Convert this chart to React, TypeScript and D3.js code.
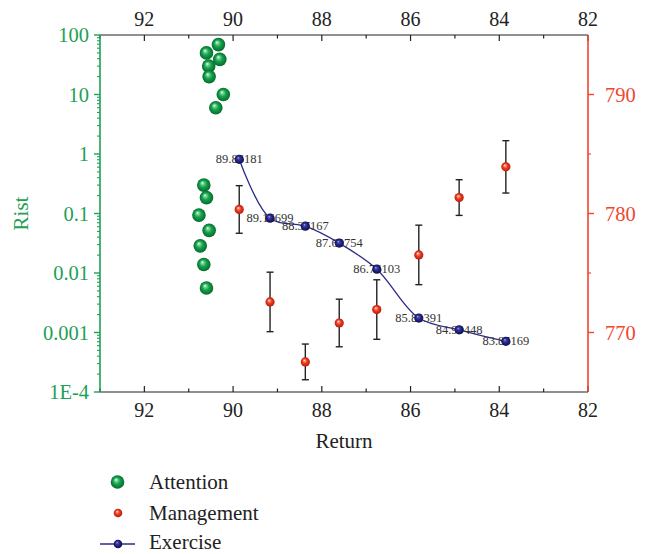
import React from 'react';
import * as d3 from 'd3';

const xTicks = [92, 90, 88, 86, 84, 82];
const xMinorTicks = [93, 91, 89, 87, 85, 83];
const leftTicks = [1e-4, 1e-3, 1e-2, 1e-1, 1, 10, 100];
const leftTickLabels = ['1E-4', '0.001', '0.01', '0.1', '1', '10', '100'];
const rightTicks = [770, 780, 790];
const rightMinorTicks = [775, 785];

const attentionX = [90.33, 90.6, 90.3, 90.55, 90.54, 90.22, 90.39, 90.66, 90.6, 90.77, 90.54, 90.74, 90.66, 90.6];
const attentionY = [69, 50, 39, 30, 20, 10, 6, 0.3, 0.185, 0.094, 0.052, 0.0286, 0.0139, 0.0056];

const exerciseX = [89.86181, 89.16699, 88.37167, 87.60754, 86.76103, 85.81391, 84.90448, 83.85169];
const exerciseY = [0.815, 0.0834, 0.0612, 0.0318, 0.0116, 0.00175, 0.00111, 0.00071];

const managementX = [89.86181, 89.16699, 88.37167, 87.60754, 86.76103, 85.81391, 84.90448, 83.85169];
const managementY = [780.34, 772.57, 767.53, 770.8, 771.93, 776.52, 781.34, 783.92];
const managementErr = [2.0, 2.5, 1.5, 2.0, 2.5, 2.5, 1.5, 2.2];

const seriesNames = ['Attention', 'Management', 'Exercise'];

const L = 100, R = 588, T = 35, B = 392;
const GREEN = '#1ea055';
const RED = '#f0462e';
const BLUE = '#2b2b8c';
const FONT = '"Liberation Serif", "Times New Roman", serif';

export default function App() {
  const x = d3.scaleLinear().domain([93, 82]).range([L, R]);
  const yL = d3.scaleLog().domain([1e-4, 100]).range([B, T]);
  const yR = d3.scaleLinear().domain([765, 795]).range([B, T]);

  const leftMinor: number[] = [];
  for (let e = -4; e < 2; e++) {
    for (let m = 2; m <= 9; m++) leftMinor.push(m * Math.pow(10, e));
  }

  const line = d3.line<number>()
    .x((_, i) => x(exerciseX[i]))
    .y((d) => yL(d))
    .curve(d3.curveCatmullRom.alpha(0.5));

  const fmt = d3.format('.5f');

  return (
    <svg width={646} height={554} style={{ position: 'absolute', left: 0, top: 0, background: '#fff' }} fontFamily={FONT}>
      <defs>
        <radialGradient id="gG" cx="50%" cy="50%" r="50%" fx="38%" fy="32%">
          <stop offset="0%" stopColor="#ffffff" />
          <stop offset="18%" stopColor="#7fd9a0" />
          <stop offset="50%" stopColor="#17a34e" />
          <stop offset="100%" stopColor="#046b2c" />
        </radialGradient>
        <radialGradient id="gR" cx="50%" cy="50%" r="50%" fx="38%" fy="32%">
          <stop offset="0%" stopColor="#ffffff" />
          <stop offset="18%" stopColor="#ff9a85" />
          <stop offset="50%" stopColor="#f03a22" />
          <stop offset="100%" stopColor="#b81d0c" />
        </radialGradient>
        <radialGradient id="gB" cx="50%" cy="50%" r="50%" fx="38%" fy="32%">
          <stop offset="0%" stopColor="#b0b0ff" />
          <stop offset="25%" stopColor="#4444aa" />
          <stop offset="60%" stopColor="#22227a" />
          <stop offset="100%" stopColor="#10104a" />
        </radialGradient>
      </defs>

      {/* top axis */}
      <line x1={L} x2={R} y1={T} y2={T} stroke="#222" strokeWidth={1.2} />
      {xTicks.map((t) => (
        <g key={'tt' + t}>
          <line x1={x(t)} x2={x(t)} y1={T} y2={T + 6} stroke="#222" strokeWidth={1.2} />
          <text x={x(t)} y={26} textAnchor="middle" fontSize={20} fill="#222">{t}</text>
        </g>
      ))}
      {xMinorTicks.map((t) => (
        <line key={'tm' + t} x1={x(t)} x2={x(t)} y1={T} y2={T + 3.5} stroke="#222" strokeWidth={1.2} />
      ))}

      {/* bottom axis */}
      <line x1={L} x2={R} y1={B} y2={B} stroke="#222" strokeWidth={1.2} />
      {xTicks.map((t) => (
        <g key={'bt' + t}>
          <line x1={x(t)} x2={x(t)} y1={B} y2={B - 6} stroke="#222" strokeWidth={1.2} />
          <text x={x(t)} y={417} textAnchor="middle" fontSize={20} fill="#222">{t}</text>
        </g>
      ))}
      {xMinorTicks.map((t) => (
        <line key={'bm' + t} x1={x(t)} x2={x(t)} y1={B} y2={B - 3.5} stroke="#222" strokeWidth={1.2} />
      ))}
      <text x={(L + R) / 2} y={448} textAnchor="middle" fontSize={21} fill="#222">Return</text>

      {/* left axis */}
      <line x1={L} x2={L} y1={T} y2={B} stroke={GREEN} strokeWidth={1.6} />
      {leftTicks.map((t, i) => (
        <g key={'lt' + i}>
          <line x1={L} x2={L - 6} y1={yL(t)} y2={yL(t)} stroke={GREEN} strokeWidth={1.4} />
          <text x={L - 11} y={yL(t) + 7} textAnchor="end" fontSize={20.5} fill={GREEN}>{leftTickLabels[i]}</text>
        </g>
      ))}
      {leftMinor.map((t, i) => (
        <line key={'lm' + i} x1={L} x2={L - 3} y1={yL(t)} y2={yL(t)} stroke={GREEN} strokeWidth={1.1} />
      ))}
      <text transform={`translate(28,${(T + B) / 2}) rotate(-90)`} textAnchor="middle" fontSize={21} fill={GREEN}>Rist</text>

      {/* right axis */}
      <line x1={R} x2={R} y1={T} y2={B} stroke={RED} strokeWidth={1.6} />
      {rightTicks.map((t) => (
        <g key={'rt' + t}>
          <line x1={R} x2={R + 6} y1={yR(t)} y2={yR(t)} stroke={RED} strokeWidth={1.4} />
          <text x={R + 17} y={yR(t) + 7} textAnchor="start" fontSize={20.5} fill={RED}>{t}</text>
        </g>
      ))}
      {rightMinorTicks.map((t) => (
        <line key={'rm' + t} x1={R} x2={R + 3} y1={yR(t)} y2={yR(t)} stroke={RED} strokeWidth={1.2} />
      ))}

      {/* attention */}
      {attentionX.map((v, i) => (
        <circle key={'a' + i} cx={x(v)} cy={yL(attentionY[i])} r={6.8} fill="url(#gG)" />
      ))}

      {/* management with error bars */}
      {managementX.map((v, i) => {
        const cx = x(v);
        const y1 = yR(managementY[i] + managementErr[i]);
        const y2 = yR(managementY[i] - managementErr[i]);
        return (
          <g key={'m' + i}>
            <line x1={cx} x2={cx} y1={y1} y2={y2} stroke="#222" strokeWidth={1.4} />
            <line x1={cx - 3.5} x2={cx + 3.5} y1={y1} y2={y1} stroke="#222" strokeWidth={1.4} />
            <line x1={cx - 3.5} x2={cx + 3.5} y1={y2} y2={y2} stroke="#222" strokeWidth={1.4} />
            <circle cx={cx} cy={yR(managementY[i])} r={4.6} fill="url(#gR)" />
          </g>
        );
      })}

      {/* exercise */}
      <path d={line(exerciseY) || ''} fill="none" stroke={BLUE} strokeWidth={1.3} />
      {exerciseX.map((v, i) => (
        <text key={'el' + i} x={x(v)} y={yL(exerciseY[i]) + 4} textAnchor="middle" fontSize={12.5} fill="#333">{fmt(v)}</text>
      ))}
      {exerciseX.map((v, i) => (
        <circle key={'e' + i} cx={x(v)} cy={yL(exerciseY[i])} r={4.6} fill="url(#gB)" />
      ))}

      {/* legend */}
      <circle cx={117.5} cy={482} r={6.8} fill="url(#gG)" />
      <text x={149} y={489} fontSize={21} fill="#222">{seriesNames[0]}</text>
      <circle cx={118} cy={513} r={4.3} fill="url(#gR)" />
      <text x={149} y={520} fontSize={21} fill="#222">{seriesNames[1]}</text>
      <line x1={100} x2={135} y1={544} y2={544} stroke={BLUE} strokeWidth={1.4} />
      <circle cx={118} cy={544} r={4.3} fill="url(#gB)" />
      <text x={149} y={549} fontSize={21} fill="#222">{seriesNames[2]}</text>
    </svg>
  );
}
